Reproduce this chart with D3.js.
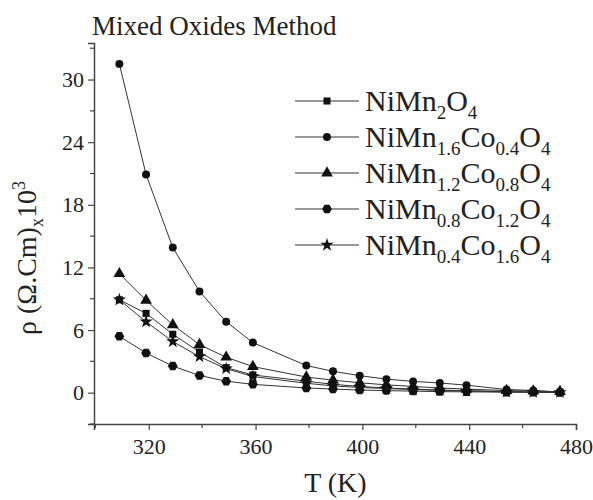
<!DOCTYPE html>
<html>
<head>
<meta charset="utf-8">
<script src="https://cdn.jsdelivr.net/npm/d3@7"></script>
<style>
  body { margin: 0; background: #fff; }
</style>
</head>
<body>
<script>
// temperatures (K)
var temps = [309, 319, 329, 339, 349, 359, 379, 389, 399, 409, 419, 429, 439, 454, 464, 474];

// resistivity x10^3 for each composition
var nimn2o4     = [8.9, 7.6, 5.6, 3.9, 2.4, 1.7, 1.1, 0.8, 0.6, 0.45, 0.35, 0.25, 0.2, 0.1, 0.08, 0.05];
var co04        = [31.5, 20.9, 13.9, 9.7, 6.8, 4.8, 2.6, 2.05, 1.63, 1.3, 1.08, 0.93, 0.72, 0.3, 0.22, 0.05];
var co08        = [11.4, 8.85, 6.5, 4.6, 3.4, 2.5, 1.5, 1.2, 0.95, 0.75, 0.6, 0.45, 0.35, 0.2, 0.15, 0.1];
var co12        = [5.4, 3.8, 2.55, 1.65, 1.1, 0.8, 0.45, 0.35, 0.25, 0.2, 0.15, 0.1, 0.08, 0.05, 0.03, 0.02];
var co16        = [8.9, 6.8, 4.9, 3.45, 2.3, 1.55, 0.9, 0.65, 0.5, 0.4, 0.3, 0.22, 0.15, 0.08, 0.05, 0.03];

var seriesNames = ["NiMn_{2}O_{4}", "NiMn_{1.6}Co_{0.4}O_{4}", "NiMn_{1.2}Co_{0.8}O_{4}",
                   "NiMn_{0.8}Co_{1.2}O_{4}", "NiMn_{0.4}Co_{1.6}O_{4}"];
var seriesValues = [nimn2o4, co04, co08, co12, co16];

var xMajor = [320, 360, 400, 440, 480];
var xMinor = [300, 340, 380, 420, 460];
var yMajor = [0, 6, 12, 18, 24, 30];
var yMinor = [-3, 3, 9, 15, 21, 27, 33];

var serif = "'Liberation Serif', 'Times New Roman', 'DejaVu Serif', serif";

var hexagon = {
  draw: function(ctx, size) {
    var r = Math.sqrt(size / (1.5 * Math.sqrt(3)));
    for (var i = 0; i < 6; i++) {
      var a = Math.PI / 3 * i;
      var px = r * Math.cos(a), py = r * Math.sin(a);
      if (i === 0) ctx.moveTo(px, py); else ctx.lineTo(px, py);
    }
    ctx.closePath();
  }
};
var symbols = [
  d3.symbol().type(d3.symbolSquare).size(50),
  d3.symbol().type(d3.symbolCircle).size(50),
  d3.symbol().type(d3.symbolTriangle).size(60),
  d3.symbol().type(hexagon).size(62),
  d3.symbol().type(d3.symbolStar).size(55)
];

var width = 593, height = 500;
var x = d3.scaleLinear().domain([299.5, 480]).range([94, 576]);
var y = d3.scaleLinear().domain([-3, 33.5]).range([424, 43]);

var svg = d3.select("body").append("svg")
    .attr("width", width)
    .attr("height", height);

// text with _{sub} and ^{sup} parts; shifts in px
function richText(sel, str, size, subSize) {
  var shift = 0;
  str.split(/(_\{[^}]*\}|\^\{[^}]*\})/).forEach(function(part) {
    if (!part) return;
    var target = 0, fs = size, txt = part;
    if (part[0] === "_") { target = size * 0.25; fs = subSize; txt = part.slice(2, -1); }
    else if (part[0] === "^") { target = -size * 0.4; fs = subSize; txt = part.slice(2, -1); }
    sel.append("tspan")
        .attr("dy", target - shift)
        .style("font-size", fs + "px")
        .text(txt);
    shift = target;
  });
}

// lines
var line = d3.line()
    .x(function(d, i) { return x(temps[i]); })
    .y(function(d) { return y(d); });

svg.append("g").selectAll("path")
    .data(seriesValues)
  .enter().append("path")
    .attr("d", line)
    .attr("fill", "none")
    .attr("stroke", "#333")
    .attr("stroke-width", 1);

// markers
seriesValues.forEach(function(vals, s) {
  svg.append("g").selectAll("path")
      .data(vals)
    .enter().append("path")
      .attr("d", symbols[s])
      .attr("transform", function(d, i) {
        return "translate(" + x(temps[i]) + "," + y(d) + ")";
      })
      .attr("fill", "#111");
});

// axes
var axisColor = "#444";
var xAxis = svg.append("g").attr("transform", "translate(0," + y(-3) + ")");
xAxis.call(d3.axisBottom(x).tickValues(xMajor).tickSize(6).tickPadding(4));
xAxis.append("g").selectAll("line").data(xMinor).enter().append("line")
    .attr("x1", x).attr("x2", x).attr("y1", 0).attr("y2", 4);
var yAxis = svg.append("g").attr("transform", "translate(" + x(299.5) + ",0)");
yAxis.call(d3.axisLeft(y).tickValues(yMajor).tickSize(6).tickPadding(4));
yAxis.append("g").selectAll("line").data(yMinor).enter().append("line")
    .attr("y1", y).attr("y2", y).attr("x1", 0).attr("x2", -4);

svg.selectAll(".domain").attr("stroke", axisColor).attr("stroke-width", 1.5);
xAxis.selectAll("line").attr("stroke", axisColor).attr("stroke-width", 1.2);
yAxis.selectAll("line").attr("stroke", axisColor).attr("stroke-width", 1.2);
svg.selectAll(".tick text")
    .style("font-family", serif)
    .style("font-size", "22px")
    .attr("fill", "#222");
xAxis.selectAll(".tick text").attr("dy", "0.9em");

// title
svg.append("text")
    .attr("x", 92).attr("y", 35)
    .style("font-family", serif)
    .style("font-size", "27px")
    .attr("fill", "#222")
    .text("Mixed Oxides Method");

// axis titles
svg.append("text")
    .attr("x", x(400) - 27).attr("y", 492)
    .attr("text-anchor", "middle")
    .style("font-family", serif)
    .style("font-size", "28px")
    .attr("fill", "#222")
    .text("T (K)");

var yt = svg.append("text")
    .attr("transform", "translate(36,258)rotate(-90)")
    .attr("text-anchor", "middle")
    .style("font-family", serif)
    .style("font-size", "28px")
    .attr("fill", "#222");
richText(yt, "\u03c1 (\u03a9.Cm)_{x}10^{3}", 28, 18);

// legend
var legend = svg.append("g").selectAll("g")
    .data(seriesNames)
  .enter().append("g")
    .attr("transform", function(d, i) { return "translate(295," + (101 + i * 36) + ")"; });

legend.append("line")
    .attr("x1", 0).attr("x2", 64)
    .attr("stroke", "#333").attr("stroke-width", 1);
legend.append("path")
    .attr("d", function(d, i) { return symbols[i](); })
    .attr("transform", "translate(32,0)")
    .attr("fill", "#111");
legend.append("text")
    .attr("x", 70).attr("y", 10)
    .style("font-family", serif)
    .style("font-size", "30px")
    .attr("fill", "#222")
    .each(function(d) { richText(d3.select(this), d, 30, 19); });
</script>
</body>
</html>
